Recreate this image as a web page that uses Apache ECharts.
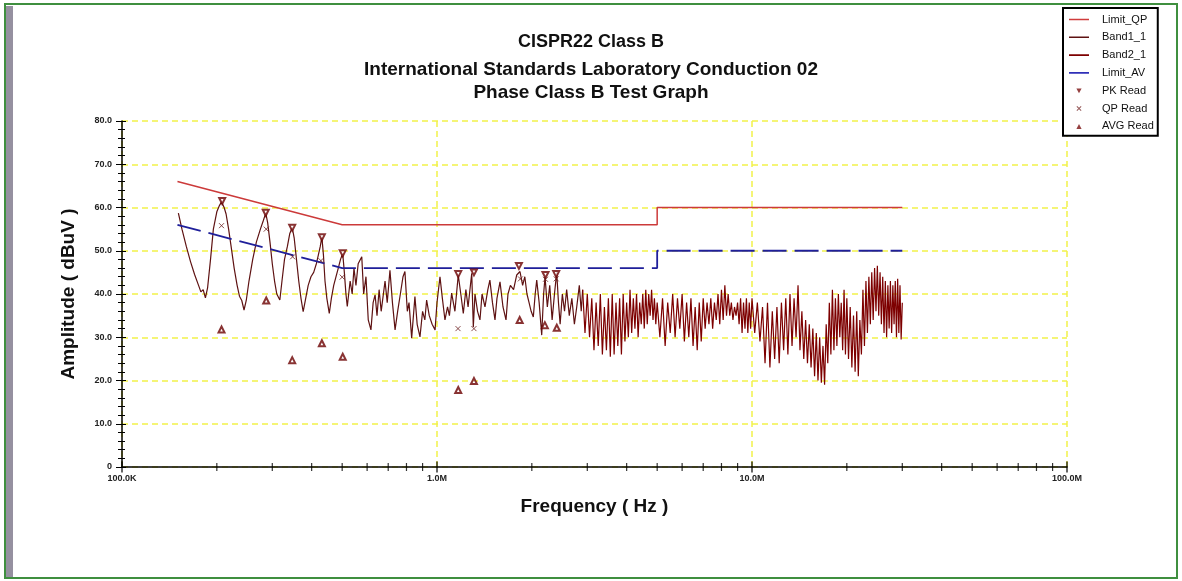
<!DOCTYPE html>
<html>
<head>
<meta charset="utf-8">
<style>
  html, body { margin: 0; padding: 0; background: #fff; }
  #CisprChart { width: 1182px; height: 581px; }
</style>
<script src="https://cdn.jsdelivr.net/npm/echarts/dist/echarts.min.js"></script>
</head>
<body>
<div id="CisprChart"></div>
<script>
// limits (MHz, dBuV)
const limitQP = [[0.15, 66], [0.5, 56], [5, 56], [5, 60], [30, 60]];
const limitAV = [[0.15, 56], [0.5, 46], [5, 46], [5, 50], [30, 50]];

// scan trace 0.15 - 2.9 MHz
const band1 = [
  [0.151, 58.7], [0.155, 55], [0.16, 51], [0.165, 47.5], [0.17, 44.5], [0.175, 42], [0.178, 40.5],
  [0.181, 41], [0.184, 39.1], [0.187, 41.5], [0.191, 48], [0.195, 55], [0.2, 59], [0.204, 60.5],
  [0.207, 61.3], [0.211, 60], [0.214, 58.5], [0.218, 55], [0.222, 51], [0.227, 46], [0.232, 42],
  [0.236, 39.5], [0.24, 38.5], [0.244, 36.3], [0.248, 38.5], [0.253, 43], [0.26, 48], [0.267, 52],
  [0.275, 55], [0.281, 57], [0.286, 58.7], [0.29, 56.5], [0.295, 52], [0.3, 47], [0.305, 43],
  [0.31, 40], [0.317, 38.6], [0.322, 43], [0.328, 48], [0.335, 51], [0.341, 54], [0.347, 55.4],
  [0.352, 53], [0.358, 48], [0.364, 43], [0.37, 39], [0.376, 35.9], [0.383, 39], [0.39, 42],
  [0.398, 44], [0.406, 45], [0.414, 47], [0.42, 49], [0.426, 51], [0.431, 53.2], [0.436, 49],
  [0.441, 43], [0.447, 39], [0.455, 35.5], [0.462, 39], [0.47, 42], [0.478, 44], [0.486, 46],
  [0.494, 48], [0.502, 49.4], [0.508, 45], [0.514, 40], [0.519, 37.1], [0.53, 43], [0.538, 40],
  [0.545, 46], [0.553, 42], [0.562, 47], [0.577, 48.6], [0.585, 40], [0.595, 44], [0.605, 34],
  [0.617, 31.7], [0.627, 38], [0.636, 39.8], [0.645, 35], [0.655, 41], [0.665, 36], [0.684, 43],
  [0.695, 38], [0.709, 45.5], [0.722, 38], [0.736, 31.7], [0.75, 36], [0.765, 40], [0.78, 44],
  [0.791, 45.2], [0.805, 36], [0.815, 38], [0.831, 29.8], [0.851, 39.4], [0.865, 33], [0.883, 30.1],
  [0.9, 36], [0.915, 34], [0.927, 38.6], [0.945, 35], [0.965, 33], [0.986, 31.7], [1.0, 38],
  [1.022, 44], [1.04, 39], [1.06, 34], [1.08, 37], [1.095, 35], [1.113, 40.2], [1.14, 36],
  [1.168, 44.4], [1.19, 40], [1.212, 35.5], [1.235, 41], [1.255, 37], [1.289, 44.8], [1.304, 32.4],
  [1.32, 40], [1.345, 36], [1.369, 34], [1.39, 40], [1.42, 37], [1.45, 41], [1.472, 43.2],
  [1.5, 38], [1.528, 34], [1.55, 39], [1.585, 42.8], [1.62, 37], [1.656, 34], [1.68, 40],
  [1.71, 42], [1.75, 41], [1.791, 44.4], [1.834, 45.2], [1.87, 42], [1.9, 44], [1.93, 40],
  [1.96, 38], [1.99, 36], [2.022, 34.7], [2.05, 40], [2.073, 43.2], [2.11, 38], [2.15, 30.5],
  [2.18, 40], [2.203, 44], [2.24, 37], [2.28, 42], [2.32, 34], [2.36, 40], [2.399, 45],
  [2.43, 38], [2.46, 33], [2.5, 40], [2.54, 36], [2.58, 41], [2.63, 35], [2.68, 39],
  [2.73, 33], [2.777, 37], [2.83, 42], [2.87, 36], [2.9, 41]
];

// scan trace 2.9 - 30 MHz
const band2 = [
  [2.9, 41], [2.95, 31], [3.0, 40], [3.05, 30], [3.1, 39], [3.15, 27], [3.2, 38], [3.25, 28],
  [3.3, 40], [3.35, 26], [3.4, 37], [3.45, 27], [3.5, 39], [3.55, 25.5], [3.6, 40], [3.65, 26],
  [3.7, 38], [3.75, 28], [3.8, 39], [3.85, 26], [3.9, 40], [3.95, 29], [4.0, 38], [4.05, 30],
  [4.1, 41], [4.15, 31], [4.2, 39], [4.25, 32], [4.3, 40], [4.35, 30], [4.4, 38], [4.45, 33],
  [4.5, 40], [4.55, 32], [4.6, 41], [4.65, 33], [4.7, 40], [4.75, 35], [4.8, 41], [4.85, 34],
  [4.9, 39], [4.95, 33], [5.0, 38], [5.1, 30], [5.2, 39], [5.3, 28], [5.4, 38], [5.5, 31],
  [5.6, 40], [5.7, 30], [5.8, 39], [5.9, 32], [6.0, 40], [6.1, 29], [6.2, 38], [6.3, 30],
  [6.4, 39], [6.5, 28], [6.6, 37], [6.7, 27], [6.8, 38], [6.9, 29], [7.0, 39], [7.1, 32],
  [7.2, 38], [7.3, 33], [7.4, 39], [7.5, 32], [7.6, 38], [7.7, 34], [7.8, 40], [7.9, 33],
  [8.0, 41], [8.1, 34], [8.2, 42], [8.3, 35], [8.4, 40], [8.5, 35], [8.6, 38], [8.7, 34],
  [8.8, 37], [8.9, 35], [9.0, 38], [9.1, 33], [9.2, 39], [9.3, 31], [9.4, 38], [9.5, 32],
  [9.6, 39], [9.7, 31], [9.8, 38], [9.9, 32], [10.0, 39], [10.2, 31], [10.4, 38], [10.6, 29],
  [10.8, 37], [11.0, 24], [11.2, 38], [11.4, 23], [11.6, 36], [11.8, 25], [12.0, 37], [12.2, 24],
  [12.4, 38], [12.6, 27], [12.8, 39], [13.0, 26], [13.2, 40], [13.4, 28], [13.6, 39], [13.8, 30],
  [14.0, 42], [14.2, 27], [14.4, 36], [14.6, 25], [14.8, 34], [15.0, 24], [15.2, 33], [15.4, 23],
  [15.6, 32], [15.8, 21], [16.0, 31], [16.2, 20], [16.4, 30], [16.6, 19.5], [16.8, 28], [17.0, 19],
  [17.2, 33], [17.4, 24], [17.6, 38], [17.8, 26], [18.0, 41], [18.2, 27], [18.4, 39], [18.6, 28],
  [18.8, 40], [19.0, 30], [19.2, 38], [19.4, 27], [19.6, 41], [19.8, 26], [20.0, 39], [20.25, 25],
  [20.5, 37], [20.75, 23], [21.0, 35], [21.25, 22], [21.5, 36], [21.75, 21], [22.0, 34], [22.25, 26],
  [22.5, 41], [22.75, 28], [23.0, 43], [23.25, 31], [23.5, 44], [23.75, 33], [24.0, 45], [24.25, 34],
  [24.5, 46], [24.75, 36], [25.0, 46.5], [25.25, 35], [25.5, 45], [25.75, 33], [26.0, 44], [26.25, 31],
  [26.5, 43], [26.75, 30], [27.0, 42], [27.25, 32], [27.5, 43], [27.75, 31], [28.0, 42], [28.25, 33],
  [28.5, 43], [28.75, 30], [29.0, 43.5], [29.25, 31], [29.5, 42], [29.75, 29.5], [30.0, 38]
];

// final readings
const pkRead = [[0.208, 61.5], [0.286, 58.8], [0.347, 55.3], [0.431, 53.1], [0.502, 49.4],
  [1.168, 44.6], [1.31, 45.0], [1.82, 46.5], [2.21, 44.4], [2.39, 44.6]];
const qpRead = [[0.207, 55.8], [0.287, 55.0], [0.348, 48.6], [0.428, 47.7], [0.5, 43.9],
  [1.166, 32.0], [1.31, 32.0], [1.84, 43.5], [2.21, 43.4], [2.39, 43.5]];
const avgRead = [[0.207, 31.8], [0.287, 38.5], [0.347, 24.7], [0.431, 28.6], [0.502, 25.5],
  [1.168, 17.8], [1.31, 19.9], [1.83, 34.0], [2.2, 32.8], [2.4, 32.2]];

// axis ticks
const xTickValues = [0.1, 1, 10, 100];
const xTickLabels = ['100.0K', '1.0M', '10.0M', '100.0M'];
const xMinorTicks = [0.2, 0.3, 0.4, 0.5, 0.6, 0.7, 0.8, 0.9, 2, 3, 4, 5, 6, 7, 8, 9,
  20, 30, 40, 50, 60, 70, 80, 90];

// legend icons (outer corner points keep the 20x10 box so the mark stays small)
const iconLine = 'path://M0,0L0.01,0M0,4.2L20,4.2L20,5.8L0,5.8ZM20,10L19.99,10';
const iconPk = 'path://M0,0L0.01,0M7.4,2.8L12.6,2.8L10,7.6ZM20,10L19.99,10';
const iconQp = 'path://M0,0L0.01,0M7.5,3.2L8.2,2.5L12.5,6.8L11.8,7.5ZM11.8,2.5L12.5,3.2L8.2,7.5L7.5,6.8ZM20,10L19.99,10';
const iconAvg = 'path://M0,0L0.01,0M10,2.6L12.6,7.6L7.4,7.6ZM20,10L19.99,10';

const myChart = echarts.init(document.getElementById('CisprChart'));

const titleFont = { fontWeight: 'bold', color: '#111', fontFamily: 'Liberation Sans' };

function legendItem(name, icon, color) {
  return { name: name, icon: icon, itemStyle: { color: color, borderColor: color, borderWidth: 0 } };
}

const option = {
  animation: false,
  backgroundColor: '#fff',
  title: [
    { text: 'CISPR22 Class B', left: 'center', top: 28,
      textStyle: Object.assign({ fontSize: 18 }, titleFont) },
    { text: 'International Standards Laboratory Conduction 02', left: 'center', top: 55,
      textStyle: Object.assign({ fontSize: 19 }, titleFont) },
    { text: 'Phase Class B Test Graph', left: 'center', top: 78,
      textStyle: Object.assign({ fontSize: 19 }, titleFont) }
  ],
  graphic: [
    { type: 'rect', silent: true, z: -1,
      shape: { x: 5, y: 4, width: 1172, height: 574 },
      style: { fill: 'none', stroke: '#3f8f3f', lineWidth: 2 } },
    { type: 'rect', silent: true, z: -1,
      shape: { x: 6, y: 6, width: 7, height: 571 },
      style: { fill: '#9590a0' } }
  ],
  legend: {
    orient: 'vertical',
    left: 1063,
    top: 8,
    padding: [6, 4, 4, 6],
    itemWidth: 20,
    itemHeight: 10,
    itemGap: 6.8,
    borderColor: '#000',
    borderWidth: 2,
    backgroundColor: '#fff',
    textStyle: { fontSize: 11, color: '#111', fontFamily: 'Liberation Sans', padding: [0, 0, 0, 8] },
    data: [
      legendItem('Limit_QP', iconLine, '#d03c3c'),
      legendItem('Band1_1', iconLine, '#5e1212'),
      legendItem('Band2_1', iconLine, '#7d0000'),
      legendItem('Limit_AV', iconLine, '#3030b8'),
      legendItem('PK Read', iconPk, '#7a1010'),
      legendItem('QP Read', iconQp, '#7a3030'),
      legendItem('AVG Read', iconAvg, '#7a1010')
    ]
  },
  grid: { left: 122, right: 115, top: 121, bottom: 114 },
  xAxis: {
    type: 'log',
    logBase: 10,
    min: 0.1,
    max: 100,
    name: 'Frequency ( Hz )',
    nameLocation: 'middle',
    nameGap: 30,
    nameTextStyle: { fontSize: 19, fontWeight: 'bold', color: '#111', fontFamily: 'Liberation Sans' },
    axisLine: { lineStyle: { color: '#000', width: 1.5 } },
    axisTick: { show: false },
    axisLabel: {
      fontSize: 9, fontWeight: 'bold', color: '#222', margin: 7,
      formatter: function (v) {
        for (let i = 0; i < xTickValues.length; i++) {
          if (Math.abs(v - xTickValues[i]) < 1e-9) return xTickLabels[i];
        }
        return '';
      }
    },
    splitLine: { show: true, lineStyle: { color: '#f2f24a', width: 1.5, type: [6, 4] } }
  },
  yAxis: [
    {
      type: 'value',
      min: 0,
      max: 80,
      interval: 10,
      name: 'Amplitude ( dBuV )',
      nameLocation: 'middle',
      nameGap: 44,
      nameTextStyle: { fontSize: 19, fontWeight: 'bold', color: '#111', fontFamily: 'Liberation Sans' },
      axisLine: { show: true, lineStyle: { color: '#000', width: 1.5 } },
      axisTick: { show: true, length: 6, lineStyle: { color: '#000' } },
      minorTick: { show: true, splitNumber: 5, length: 4, lineStyle: { color: '#000' } },
      axisLabel: {
        fontSize: 9, fontWeight: 'bold', color: '#222', margin: 10,
        formatter: function (v) { return v === 0 ? '0' : v.toFixed(1); }
      },
      splitLine: { show: true, lineStyle: { color: '#f2f24a', width: 1.5, type: [6, 4] } }
    },
    {
      // inner half of the crossing ticks
      type: 'value',
      position: 'left',
      min: 0,
      max: 80,
      interval: 10,
      axisLine: { show: false },
      axisTick: { show: true, inside: true, length: 4, lineStyle: { color: '#000' } },
      minorTick: { show: true, splitNumber: 5, length: 3, lineStyle: { color: '#000' } },
      axisLabel: { show: false },
      splitLine: { show: false }
    }
  ],
  series: [
    {
      name: 'Limit_QP', type: 'line', data: limitQP, symbol: 'none',
      lineStyle: { color: '#cc3a3a', width: 1.5 }, itemStyle: { color: '#cc3a3a' }, z: 4
    },
    {
      name: 'Band1_1', type: 'line', data: band1, symbol: 'none',
      lineStyle: { color: '#5e1212', width: 1.2 }, itemStyle: { color: '#5e1212' }, z: 3
    },
    {
      name: 'Band2_1', type: 'line', data: band2, symbol: 'none',
      lineStyle: { color: '#7d0000', width: 1.2 }, itemStyle: { color: '#7d0000' }, z: 3
    },
    {
      name: 'Limit_AV', type: 'line', data: limitAV, symbol: 'none',
      lineStyle: { color: '#1f1f9a', width: 1.8, type: [24, 8] }, itemStyle: { color: '#1f1f9a' }, z: 4
    },
    {
      name: 'PK Read', type: 'scatter', data: pkRead, symbol: 'emptyTriangle', symbolRotate: 180,
      symbolSize: 6, itemStyle: { color: '#6b0000', borderColor: '#6b0000', borderWidth: 1 }, z: 5
    },
    {
      name: 'QP Read', type: 'scatter', data: qpRead, symbol: 'path://M0,0L10,10M10,0L0,10',
      symbolSize: 5, itemStyle: { color: 'transparent', borderColor: '#6b2020', borderWidth: 1 }, z: 5
    },
    {
      name: 'AVG Read', type: 'scatter', data: avgRead, symbol: 'emptyTriangle',
      symbolSize: 6, itemStyle: { color: '#6b0000', borderColor: '#6b0000', borderWidth: 1 }, z: 5
    },
    // x-axis ticks crossing the axis line
    {
      name: 'xMajorTicks', type: 'scatter', silent: true, clip: false, z: 6,
      data: xTickValues.map(function (f) { return [f, 0]; }),
      symbol: 'rect', symbolSize: [1.5, 11], itemStyle: { color: '#000' }
    },
    {
      name: 'xMinorTicks', type: 'scatter', silent: true, clip: false, z: 6,
      data: xMinorTicks.map(function (f) { return [f, 0]; }),
      symbol: 'rect', symbolSize: [1.2, 8], itemStyle: { color: '#000' }
    }
  ]
};

myChart.setOption(option);
</script>
</body>
</html>
